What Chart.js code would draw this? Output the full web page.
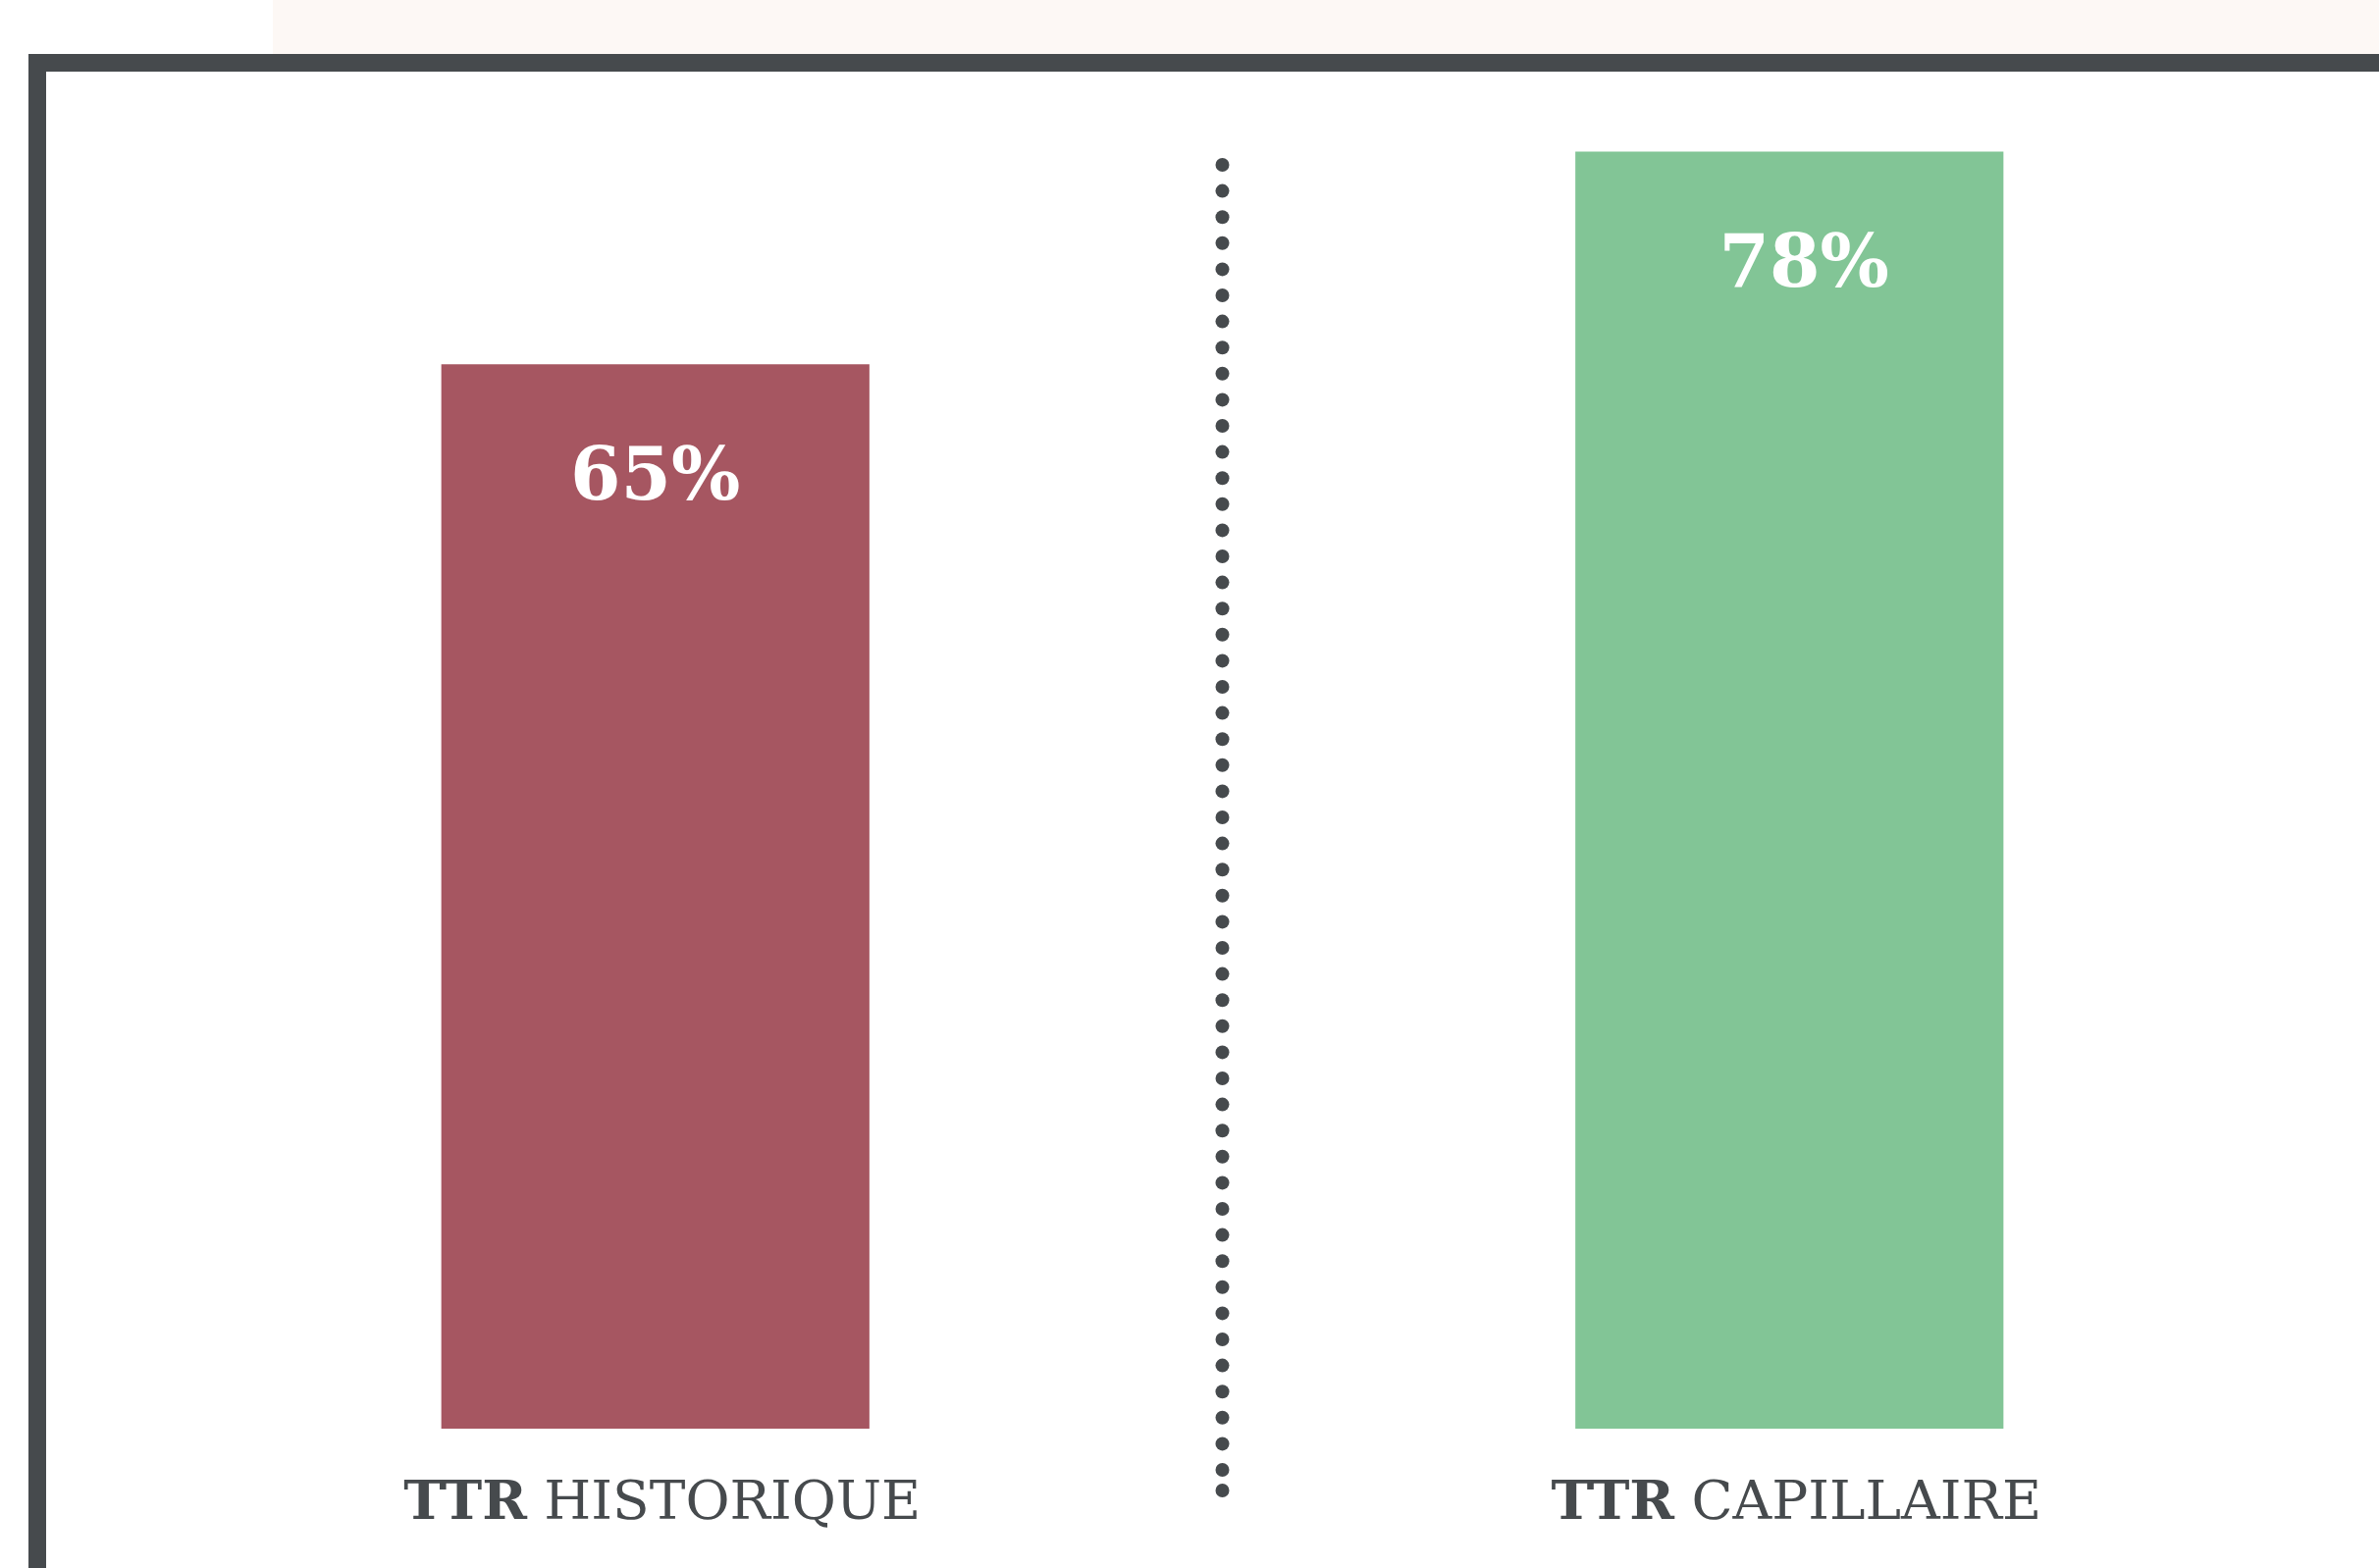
<!DOCTYPE html>
<html>
<head>
<meta charset="utf-8">
<script src="https://cdn.jsdelivr.net/npm/chart.js@4"></script>
<style>
  html, body { margin: 0; padding: 0; background: #ffffff; }
  #wrap { width: 2424px; height: 1598px; position: relative; }
</style>
</head>
<body>
<div id="wrap"><canvas id="c" width="2424" height="1598"></canvas></div>
<script>
const categories = ['TTR HISTORIQUE', 'TTR CAPILLAIRE'];
const values = [65, 78];
const valueLabels = ['65%', '78%'];
const barColors = ['#a65661', '#82c596'];

const DARK = '#464a4d';

const framePlugin = {
  id: 'frame',
  beforeDraw(chart) {
    const ctx = chart.ctx;
    const W = chart.width, H = chart.height;
    ctx.save();
    ctx.fillStyle = '#ffffff';
    ctx.fillRect(0, 0, W, H);
    ctx.fillStyle = '#fdf8f5';
    ctx.fillRect(278, 0, W - 278, 55);
    ctx.fillStyle = DARK;
    ctx.fillRect(29, 55, W - 29, 18);
    ctx.fillRect(29, 55, 18, H - 55);
    ctx.restore();
  }
};

const decorPlugin = {
  id: 'decor',
  afterDatasetsDraw(chart) {
    const ctx = chart.ctx;
    const xs = chart.scales.x, ys = chart.scales.y;
    const meta = chart.getDatasetMeta(0);
    ctx.save();
    // dotted separator between the two categories
    const sepX = (xs.getPixelForValue(0) + xs.getPixelForValue(1)) / 2;
    const yTop = 168, yBot = 1519, step = 26.6;
    ctx.fillStyle = DARK;
    for (let y = yTop; y <= yBot; y += step) {
      ctx.beginPath(); ctx.arc(sepX, y, 7, 0, Math.PI * 2); ctx.fill();
    }
    ctx.beginPath(); ctx.arc(sepX, yBot, 7, 0, Math.PI * 2); ctx.fill();

    // value labels inside bars
    ctx.fillStyle = '#ffffff';
    ctx.textAlign = 'center';
    ctx.textBaseline = 'alphabetic';
    ctx.font = 'bold 74px "DejaVu Serif"';
    meta.data.forEach((bar, i) => {
      ctx.fillText(valueLabels[i], bar.x + (i === 0 ? 0 : 15), bar.y + 138);
    });

    // category labels: first word bold, rest regular
    const base = ys.getPixelForValue(0) + 92;
    categories.forEach((label, i) => {
      const sp = label.indexOf(' ');
      const b = label.slice(0, sp), r = label.slice(sp);
      ctx.font = 'bold 55px "DejaVu Serif"';
      const wb = ctx.measureText(b).width;
      ctx.font = '55px "DejaVu Serif"';
      const wr = ctx.measureText(r).width;
      const cx = xs.getPixelForValue(i) + 7;
      let x0 = cx - (wb + wr) / 2;
      ctx.textAlign = 'left';
      ctx.fillStyle = DARK;
      ctx.font = 'bold 55px "DejaVu Serif"';
      ctx.fillText(b, x0, base);
      ctx.font = '55px "DejaVu Serif"';
      ctx.fillText(r, x0 + wb, base);
    });
    ctx.restore();
  }
};

new Chart(document.getElementById('c'), {
  type: 'bar',
  data: {
    labels: categories,
    datasets: [{
      data: values,
      backgroundColor: barColors,
      borderWidth: 0,
      categoryPercentage: 1.0,
      barPercentage: 0.3775
    }]
  },
  options: {
    responsive: false,
    animation: false,
    devicePixelRatio: 1,
    layout: { padding: { left: 90, right: 23, top: 121, bottom: 142 } },
    plugins: { legend: { display: false }, tooltip: { enabled: false } },
    scales: {
      x: { display: false, offset: true },
      y: { display: false, min: 0, max: 80 }
    }
  },
  plugins: [framePlugin, decorPlugin]
});
</script>
</body>
</html>
